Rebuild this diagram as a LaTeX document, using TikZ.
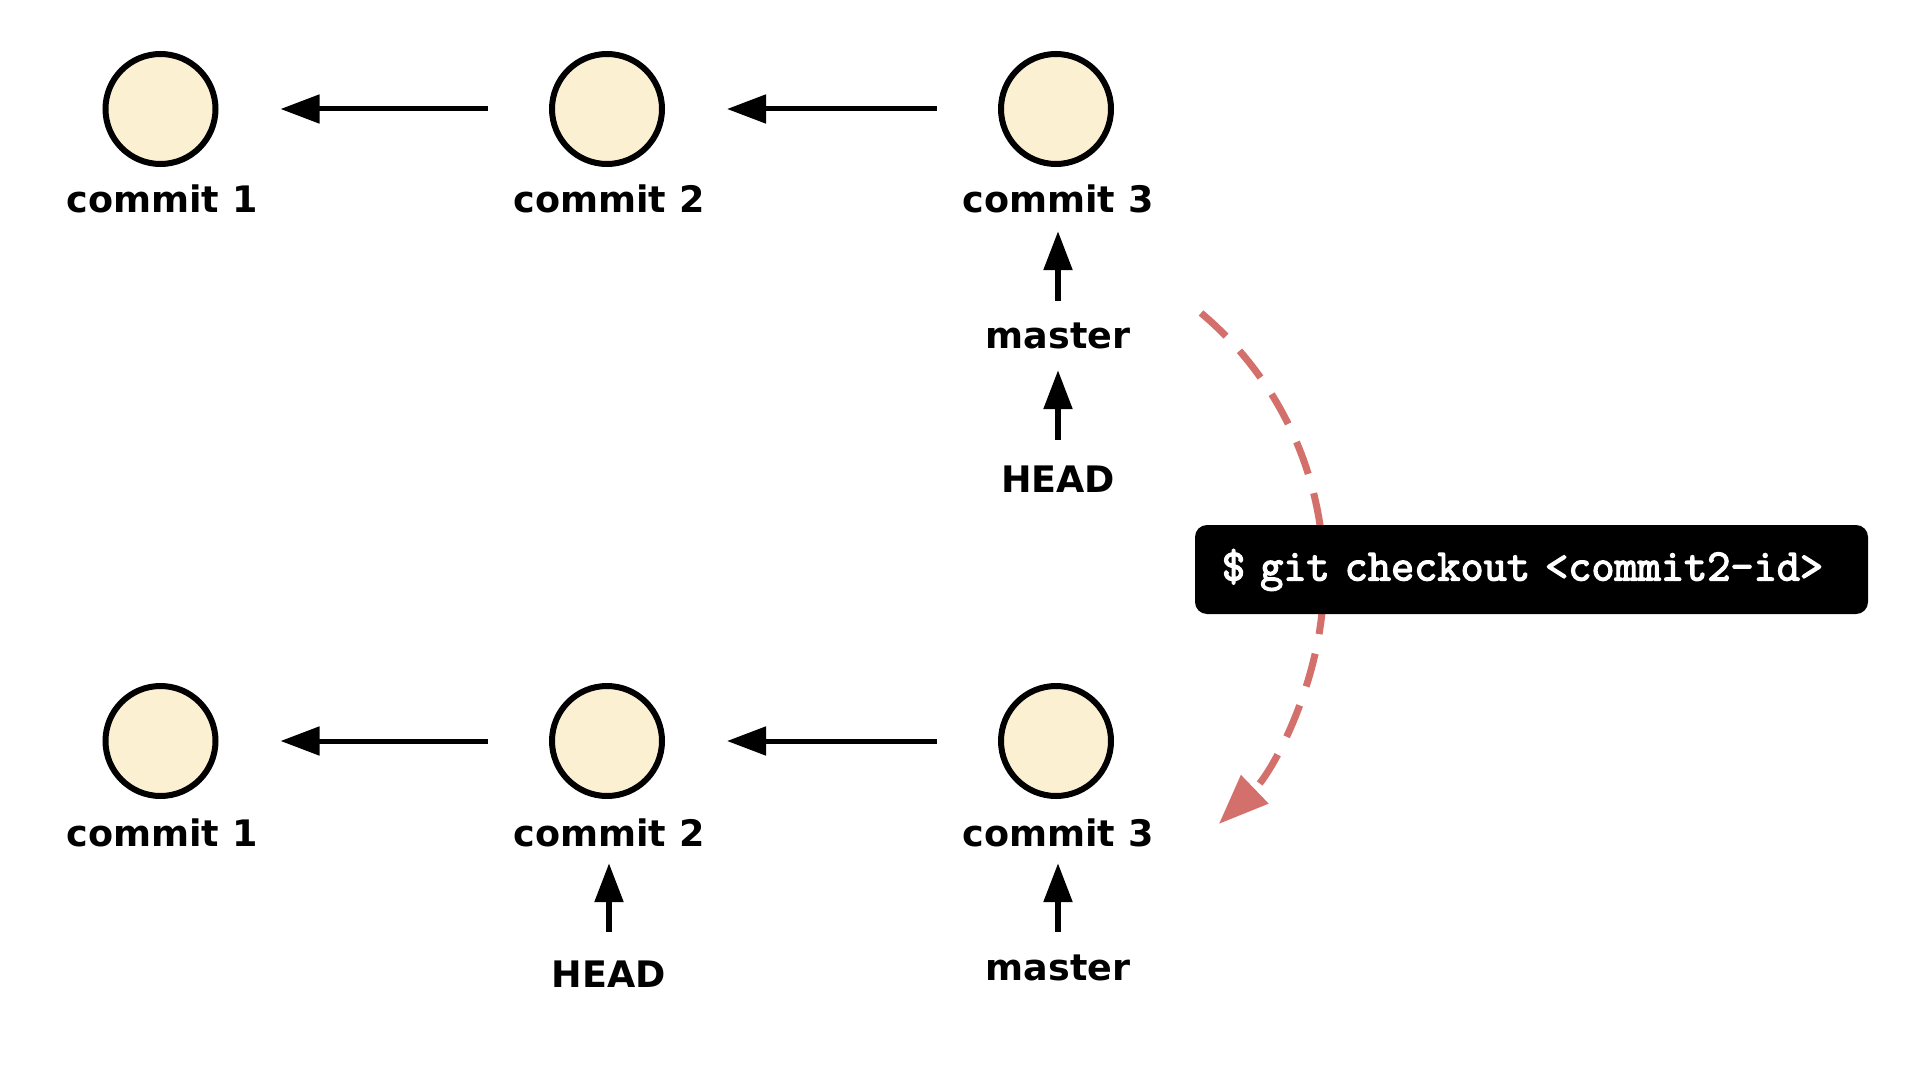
\documentclass[tikz,border=0pt]{standalone}
\usepackage{fontspec}
\newfontfamily\lblfont{DejaVu Sans}
\newfontfamily\cmdfont{Latin Modern Mono}[FakeBold=3]
\usetikzlibrary{arrows.meta}
\definecolor{cream}{HTML}{FCF0D2}
\definecolor{redarr}{HTML}{D4706B}
\begin{document}
\begin{tikzpicture}[x=1pt,y=-1pt,
  commit/.style={circle, draw=black, line width=6pt, fill=cream, minimum size=110pt, inner sep=0pt},
  lbl/.style={font=\lblfont\bfseries\fontsize{36.5}{43}\selectfont, inner sep=0pt, text height=27pt, text depth=0pt, anchor=base},
  parent/.style={line width=5pt, -{Triangle[length=39pt,width=28pt]}, shorten <=61pt, shorten >=62pt},
  ref/.style={line width=5.5pt, -{Triangle[length=39pt,width=28pt]}},
  movearrow/.style={draw=redarr, line width=7pt, dash pattern=on 34pt off 20pt, -{Triangle[length=50pt,width=38pt]}},
  cmdbox/.style={fill=black, rounded corners=12pt, text=white, inner xsep=0pt, inner ysep=0pt,
    text width=673pt, align=left, minimum height=89pt, text height=30pt, text depth=8pt,
    font=\cmdfont\bfseries\fontsize{45}{50}\selectfont}
]
\fill[white] (0,0) rectangle (1916,1078);
\useasboundingbox (0,0) rectangle (1916,1078);

% top row
\node[commit] (c1t) at (160.5,109) {};
\node[commit] (c2t) at (607,109) {};
\node[commit] (c3t) at (1056,109) {};
\node[lbl] (l1t) at (162,213) {commit 1};
\node[lbl] (l2t) at (609,213) {commit 2};
\node[lbl] (l3t) at (1058,213) {commit 3};
\node[lbl] (m1) at (1058,348) {master};
\node[lbl] (h1) at (1058,492) {HEAD};
\draw[parent] (c2t) -- (c1t);
\draw[parent] (c3t) -- (c2t);
\draw[ref, shorten <=20pt, shorten >=18pt] (m1.north) -- (l3t.south);
\draw[ref, shorten <=25pt, shorten >=22pt] (h1.north) -- (m1.south);

% bottom row
\node[commit] (c1b) at (160.5,741) {};
\node[commit] (c2b) at (607,741) {};
\node[commit] (c3b) at (1056,741) {};
\node[lbl] (l1b) at (162,846) {commit 1};
\node[lbl] (l2b) at (609,846) {commit 2};
\node[lbl] (l3b) at (1058,846) {commit 3};
\node[lbl] (h2) at (609,987) {HEAD};
\node[lbl] (m2) at (1058,980) {master};
\draw[parent] (c2b) -- (c1b);
\draw[parent] (c3b) -- (c2b);
\draw[ref, shorten <=28pt, shorten >=17pt] (h2.north) -- (l2b.south);
\draw[ref, shorten <=21pt, shorten >=17pt] (m2.north) -- (l3b.south);

% checkout move
\coordinate (cs) at (1201,313);
\draw[movearrow] (cs) arc[start angle=50, end angle=-46, radius=344pt];
\node[cmdbox] (cmd) at (1531.5,569.5) {\hspace*{27pt}\$ git checkout <commit2-id>};
\end{tikzpicture}
\end{document}
